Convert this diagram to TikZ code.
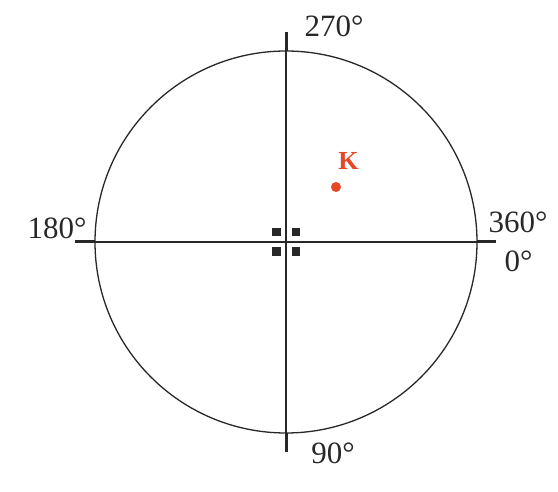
\documentclass[tikz,border=0pt]{standalone}
\usepackage{fontspec}
\setmainfont{Liberation Serif}
\usepackage{xcolor}
\usetikzlibrary{positioning,calc}
\definecolor{axiscol}{RGB}{40,40,40}
\definecolor{kcol}   {RGB}{230,72,38}
\begin{document}
\begin{tikzpicture}[x=1pt,y=-1pt,
  axis/.style={line width=1.3pt,axiscol},
  tickend/.style={line width=3pt,axiscol},
  lbl/.style={font=\fontsize{31}{34}\selectfont,inner sep=0pt,text=axiscol},
  sq/.style={fill=axiscol,draw=none,minimum size=8.5pt,inner sep=0pt},
  kdotst/.style={circle,fill=kcol,minimum size=10pt,inner sep=0pt},
  klblst/.style={font=\fontsize{26}{28}\selectfont\bfseries,text=kcol,inner sep=0pt}
]
\useasboundingbox (0,0) rectangle (558,492);
% centre and axis ends
\coordinate (O) at (286,242);
\coordinate (top) at (286,32);
\coordinate (bot) at (286,452);
\coordinate (lft) at (75,242);
\coordinate (rgt) at (496,242);
% where the axes meet the circle
\coordinate (ctop) at (286,51);
\coordinate (cbot) at (286,433);
\coordinate (clft) at (95,242);
\coordinate (crgt) at (477,242);
\draw[axis] (O) circle[radius=191pt];
\draw[axis] (ctop)--(cbot);
\draw[axis] (clft)--(crgt);
\draw[tickend] (top)--(ctop);
\draw[tickend] (cbot)--(bot);
\draw[tickend] (lft)--(clft);
\draw[tickend] (crgt)--(rgt);
% centre marks
\foreach \dx/\dy [count=\i] in {-9.75/-9.75,9.75/-9.75,-9.75/9.75,9.75/9.75}
  \node[sq] (s\i) at ($(O)+(\dx,\dy)$) {};
% angle labels
\node[lbl] (l270) at (334,26) {270°};
\node[lbl] (l90)  at (333,453) {90°};
\node[lbl] (l180) at (57,228) {180°};
\node[lbl] (l360) at (518,222.5) {360°};
\node[lbl] (l0)   at (518.5,261) {0°};
% point K
\node[kdotst] (kdot) at (336,187) {};
\node[klblst] (klbl) at (348.5,160.5) {K};
\end{tikzpicture}
\end{document}
